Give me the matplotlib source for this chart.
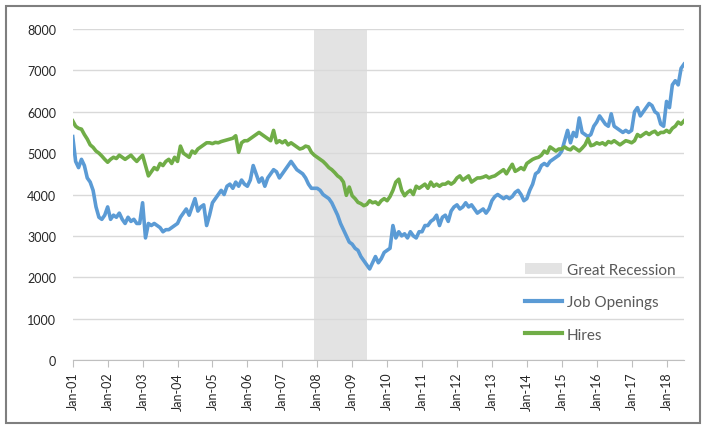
import matplotlib
matplotlib.use("Agg")
from matplotlib import pyplot as plt
from matplotlib.patches import Patch, Rectangle
from matplotlib.lines import Line2D

# monthly, thousands, Jan 2001 .. Jul 2018 (one row per year)
job_openings = [
    5400, 4800, 4650, 4850, 4700, 4400, 4300, 4100, 3700, 3450, 3400, 3500,
    3700, 3400, 3500, 3450, 3550, 3400, 3300, 3450, 3350, 3400, 3300, 3300,
    3800, 2950, 3300, 3250, 3300, 3250, 3200, 3100, 3150, 3150, 3200, 3250,
    3300, 3450, 3550, 3650, 3500, 3700, 3900, 3600, 3700, 3750, 3250, 3500,
    3800, 3900, 4000, 4100, 4000, 4200, 4250, 4150, 4300, 4200, 4350, 4250,
    4200, 4350, 4700, 4500, 4300, 4400, 4200, 4400, 4500, 4600, 4550, 4400,
    4500, 4600, 4700, 4800, 4700, 4600, 4550, 4500, 4400, 4250, 4150, 4150,
    4150, 4100, 4000, 3950, 3900, 3800, 3650, 3500, 3300, 3150, 3000, 2850,
    2800, 2700, 2650, 2500, 2400, 2300, 2200, 2350, 2500, 2350, 2450, 2600,
    2650, 2700, 3250, 2950, 3100, 3000, 3050, 2950, 3100, 3000, 2950, 3100,
    3100, 3250, 3250, 3350, 3400, 3500, 3250, 3450, 3500, 3350, 3600, 3700,
    3750, 3650, 3700, 3800, 3700, 3750, 3650, 3550, 3600, 3650, 3550, 3650,
    3850, 3950, 4000, 3950, 3900, 3950, 3900, 3950, 4050, 4100, 4000, 3850,
    3900, 4100, 4250, 4500, 4550, 4700, 4750, 4700, 4800, 4850, 4900, 4950,
    5050, 5300, 5550, 5250, 5500, 5400, 5850, 5500, 5450, 5400, 5450, 5650,
    5750, 5900, 5800, 5700, 5650, 5950, 5650, 5600, 5550, 5500, 5550, 5500,
    5550, 6000, 6100, 5900, 6000, 6100, 6200, 6150, 6000, 5950, 5700, 5650,
    6250, 6100, 6650, 6750, 6650, 7050, 7150,
]
hires = [
    5780, 5650, 5600, 5580, 5450, 5340, 5200, 5140, 5050, 5000, 4930, 4850,
    4780, 4850, 4900, 4870, 4950, 4900, 4850, 4900, 4950, 4870, 4800, 4880,
    4950, 4700, 4450, 4550, 4650, 4600, 4750, 4700, 4800, 4850, 4750, 4900,
    4800, 5170, 5000, 4950, 4900, 5050, 5000, 5100, 5150, 5200, 5250, 5250,
    5230, 5260, 5250, 5280, 5300, 5320, 5340, 5360, 5420, 5020, 5250, 5300,
    5300, 5350, 5400, 5450, 5500, 5450, 5400, 5350, 5300, 5550, 5250, 5300,
    5250, 5300, 5200, 5250, 5200, 5150, 5100, 5120, 5170, 5150, 5020, 4950,
    4900, 4850, 4800, 4730, 4650, 4600, 4530, 4450, 4400, 4300, 3980, 4180,
    3970, 3900, 3810, 3780, 3730, 3760, 3850, 3800, 3820, 3760, 3850, 3900,
    3850, 3950, 4100, 4300, 4370, 4100, 3970, 4050, 4100, 4000, 4200, 4150,
    4200, 4250, 4150, 4300, 4200, 4250, 4200, 4250, 4250, 4300, 4250, 4300,
    4400, 4450, 4350, 4400, 4450, 4300, 4350, 4400, 4400, 4420, 4450, 4400,
    4430, 4450, 4500, 4550, 4600, 4500, 4620, 4730, 4560, 4600, 4650, 4600,
    4750, 4800, 4850, 4880, 4900, 4950, 5050, 5000, 5150, 5100, 5050, 5100,
    5100, 5150, 5100, 5080, 5150, 5100, 5050, 5120, 5200, 5350, 5180, 5200,
    5250, 5220, 5250, 5200, 5280, 5250, 5300, 5250, 5200, 5250, 5300, 5280,
    5250, 5300, 5450, 5400, 5450, 5500, 5450, 5500, 5530, 5450, 5500, 5500,
    5550, 5500, 5600, 5650, 5750, 5700, 5780,
]
tick_labels = ["Jan-%02d" % y for y in range(1, 19)]
recession = (83, 101)  # Dec 2007 .. Jun 2009, month index

blue = "#5B9BD5"
green = "#70AD47"
txt = "#595959"

plt.rcParams["font.family"] = ["Lato", "DejaVu Sans"]

fig = plt.figure(figsize=(7.04, 4.27), dpi=100)
ax = fig.add_axes([0.1033, 0.1546, 0.8683, 0.7751])

months = list(range(len(job_openings)))
ax.axvspan(recession[0], recession[1], color="#E3E3E3", lw=0, zorder=0)
ax.plot(months, job_openings, color=blue, lw=2.6, zorder=3, solid_joinstyle="round")
ax.plot(months, hires, color=green, lw=2.6, zorder=3, solid_joinstyle="round")

ax.set_xlim(0, len(months) - 1)
ax.set_ylim(0, 8000)
ax.set_yticks(range(0, 8001, 1000))
ax.set_xticks(range(0, 12 * len(tick_labels), 12))
ax.set_xticklabels(tick_labels, rotation=90)
ax.grid(axis="y", color="#D9D9D9", lw=1)
ax.set_axisbelow(True)
for s in ["top", "right", "left"]:
    ax.spines[s].set_visible(False)
ax.spines["bottom"].set_color("#BFBFBF")
ax.tick_params(axis="y", length=0, labelsize=9, pad=12, labelcolor="#262626")
ax.tick_params(axis="x", length=5, color="#BFBFBF", labelsize=9, labelcolor="#262626")

handles = [Patch(facecolor="#E3E3E3", edgecolor="none"),
           Line2D([], [], color=blue, lw=3),
           Line2D([], [], color=green, lw=3)]
fig.legend(handles, ["Great Recession", "Job Openings", "Hires"],
           loc="upper left", bbox_to_anchor=(525 / 704, 1 - 264 / 427),
           frameon=False, fontsize=11, labelcolor=txt, handlelength=2.4,
           handletextpad=0.35, labelspacing=1.2, borderpad=0, borderaxespad=0)

fig.patches.append(Rectangle((0.008, 0.006), 0.986, 0.978, transform=fig.transFigure,
                             fill=False, edgecolor="#7F7F7F", lw=1.5))

fig.savefig("out.png", dpi=100)
